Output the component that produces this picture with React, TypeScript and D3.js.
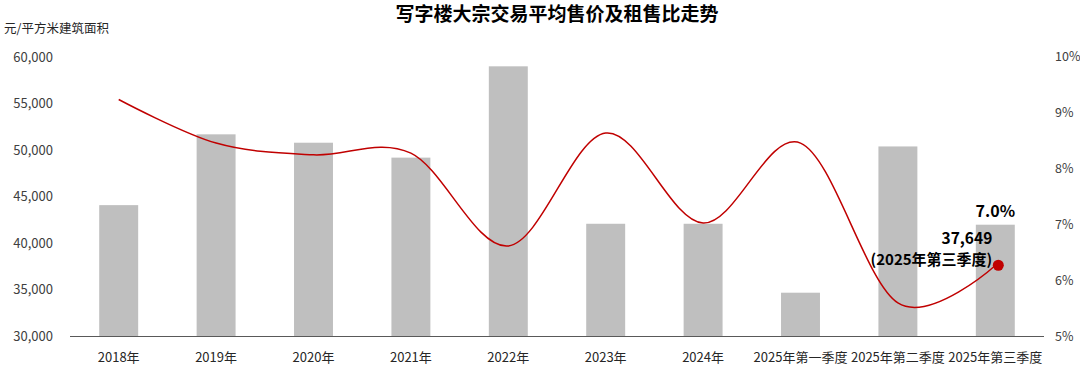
import { useEffect, useRef } from "react";
import * as d3 from "d3";

const categories = [
  "2018年",
  "2019年",
  "2020年",
  "2021年",
  "2022年",
  "2023年",
  "2024年",
  "2025年第一季度",
  "2025年第二季度",
  "2025年第三季度",
];
// average sale price, yuan / sqm
const priceValues = [44100, 51700, 50800, 49200, 59000, 42100, 42100, 34700, 50400, 42000];
// rent-to-price ratio, %
const ratioValues = [9.24, 8.46, 8.25, 8.28, 6.62, 8.64, 7.03, 8.46, 5.6, 6.27];
const leftTicks = [30000, 35000, 40000, 45000, 50000, 55000, 60000];
const rightTicks = [5, 6, 7, 8, 9, 10];
const highlightPrice = 37649;
const highlightLabel = "(2025年第三季度)";
const highlightRatioLabel = "7.0%";

const W = 1080;
const H = 367;
const FONT = "'Noto Sans CJK SC', 'Noto Sans', sans-serif";

export default function App() {
  const svgRef = useRef<SVGSVGElement | null>(null);

  useEffect(() => {
    const svg = d3.select(svgRef.current);
    svg.selectAll("*").remove();

    const x = d3
      .scaleBand()
      .domain(categories)
      .range([70, 1044])
      .paddingInner(0.6)
      .paddingOuter(0.3);
    const yL = d3.scaleLinear().domain([30000, 60000]).range([336.5, 57]);
    const yR = d3.scaleLinear().domain([5, 10]).range([336.5, 57]);

    // title
    svg
      .append("text")
      .attr("x", 557)
      .attr("y", 21)
      .attr("text-anchor", "middle")
      .attr("font-size", 19)
      .attr("font-weight", "bold")
      .attr("fill", "#000")
      .text("写字楼大宗交易平均售价及租售比走势");

    // unit label
    svg
      .append("text")
      .attr("x", 4)
      .attr("y", 33)
      .attr("font-size", 12.5)
      .attr("fill", "#262626")
      .text("元/平方米建筑面积");

    // left ticks
    svg
      .append("g")
      .selectAll("text")
      .data(leftTicks)
      .join("text")
      .attr("x", 53)
      .attr("y", (d) => yL(d))
      .attr("dy", "0.35em")
      .attr("text-anchor", "end")
      .attr("font-size", 13)
      .attr("fill", "#404040")
      .text((d) => d3.format(",")(d));

    // right ticks
    svg
      .append("g")
      .selectAll("text")
      .data(rightTicks)
      .join("text")
      .attr("x", 1055)
      .attr("y", (d) => yR(d))
      .attr("dy", "0.35em")
      .attr("font-size", 12.5)
      .attr("fill", "#404040")
      .text((d) => d + "%");

    // bars
    svg
      .append("g")
      .selectAll("rect")
      .data(priceValues)
      .join("rect")
      .attr("x", (_, i) => x(categories[i])!)
      .attr("y", (d) => yL(d))
      .attr("width", x.bandwidth())
      .attr("height", (d) => yL(30000) - yL(d))
      .attr("fill", "#bfbfbf");

    // x axis line
    svg
      .append("line")
      .attr("x1", 70)
      .attr("x2", 1044)
      .attr("y1", yL(30000))
      .attr("y2", yL(30000))
      .attr("stroke", "#595959")
      .attr("stroke-width", 1);

    // x labels
    svg
      .append("g")
      .selectAll("text")
      .data(categories)
      .join("text")
      .attr("x", (d) => x(d)! + x.bandwidth() / 2)
      .attr("y", 357)
      .attr("dy", "0.35em")
      .attr("text-anchor", "middle")
      .attr("font-size", 13)
      .attr("fill", "#262626")
      .text((d) => d);

    // ratio line
    const line = d3
      .line<number>()
      .x((_, i) => x(categories[i])! + x.bandwidth() / 2)
      .y((d) => yR(d))
      .curve(d3.curveCatmullRom.alpha(0));
    svg
      .append("path")
      .attr("d", line(ratioValues))
      .attr("fill", "none")
      .attr("stroke", "#c00000")
      .attr("stroke-width", 1.5);

    // highlight point
    const last = categories[categories.length - 1];
    const cx = x(last)! + x.bandwidth() / 2;
    svg
      .append("circle")
      .attr("cx", cx + 3)
      .attr("cy", yL(highlightPrice))
      .attr("r", 5.5)
      .attr("fill", "#c00000");

    svg
      .append("text")
      .attr("x", cx)
      .attr("y", 217)
      .attr("text-anchor", "middle")
      .attr("font-size", 16)
      .attr("font-weight", "bold")
      .attr("fill", "#000")
      .text(highlightRatioLabel);

    svg
      .append("text")
      .attr("x", cx - 3)
      .attr("y", 244)
      .attr("text-anchor", "end")
      .attr("font-size", 15.5)
      .attr("font-weight", "bold")
      .attr("fill", "#000")
      .text(d3.format(",")(highlightPrice));

    svg
      .append("text")
      .attr("x", cx - 3)
      .attr("y", 265)
      .attr("text-anchor", "end")
      .attr("font-size", 15)
      .attr("font-weight", "bold")
      .attr("fill", "#000")
      .text(highlightLabel);
  }, []);

  return (
    <svg
      ref={svgRef}
      width={W}
      height={H}
      style={{
        position: "absolute",
        left: 0,
        top: 0,
        background: "#fff",
        fontFamily: FONT,
      }}
    />
  );
}
